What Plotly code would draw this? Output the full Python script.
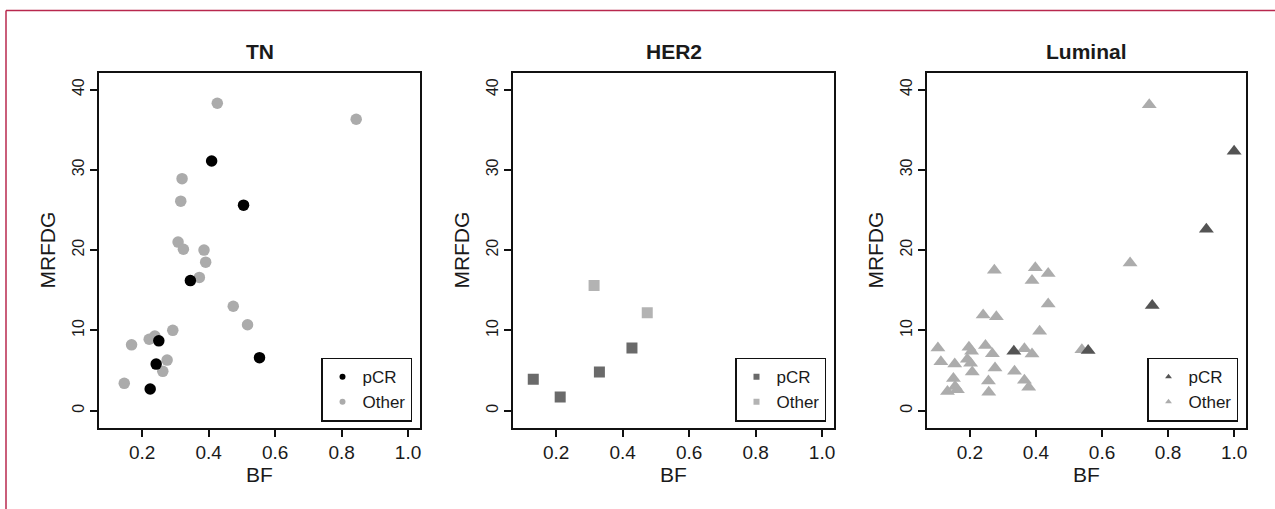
import plotly.graph_objects as go

# ---------------- data ----------------
panels = ["TN", "HER2", "Luminal"]
groups = ["pCR", "Other"]

tn_pcr_bf = [0.409, 0.505, 0.345, 0.250, 0.242, 0.224, 0.553]
tn_pcr_mrfdg = [31.1, 25.6, 16.2, 8.7, 5.8, 2.7, 6.6]
tn_other_bf = [0.426, 0.844, 0.320, 0.316, 0.308, 0.324, 0.386, 0.391, 0.372,
               0.474, 0.517, 0.292, 0.221, 0.238, 0.168, 0.275, 0.262, 0.146]
tn_other_mrfdg = [38.3, 36.3, 28.9, 26.1, 21.0, 20.1, 20.0, 18.5, 16.6,
                  13.0, 10.7, 10.0, 8.9, 9.3, 8.2, 6.3, 4.9, 3.4]

her2_pcr_bf = [0.131, 0.212, 0.330, 0.428]
her2_pcr_mrfdg = [3.9, 1.7, 4.8, 7.8]
her2_other_bf = [0.314, 0.474]
her2_other_mrfdg = [15.6, 12.2]

lum_pcr_bf = [0.333, 0.558, 0.752, 0.916, 1.000]
lum_pcr_mrfdg = [7.4, 7.5, 13.1, 22.6, 32.3]
lum_other_bf = [0.274, 0.398, 0.437, 0.388, 0.437, 0.240, 0.280, 0.411,
                0.103, 0.197, 0.205, 0.247, 0.268, 0.112, 0.154, 0.192,
                0.202, 0.207, 0.276, 0.365, 0.388, 0.335, 0.150, 0.256,
                0.365, 0.155, 0.132, 0.162, 0.378, 0.257, 0.539, 0.685, 0.743]
lum_other_mrfdg = [17.5, 17.8, 17.1, 16.2, 13.3, 11.9, 11.7, 9.9,
                   7.8, 7.9, 7.4, 8.1, 7.1, 6.1, 5.8, 6.4,
                   5.9, 4.8, 5.3, 7.7, 7.05, 4.9, 4.0, 3.7,
                   3.8, 3.0, 2.4, 2.6, 2.9, 2.3, 7.6, 18.4, 38.1]

x_ticks = [0.2, 0.4, 0.6, 0.8, 1.0]
y_ticks = [0, 10, 20, 30, 40]

# ---------------- styling ----------------
W, H = 1275, 509
FONT = "Liberation Sans, Arial, Helvetica, sans-serif"
TXT = "#1a1a1a"

panel_data = {
    "TN": [(tn_pcr_bf, tn_pcr_mrfdg), (tn_other_bf, tn_other_mrfdg)],
    "HER2": [(her2_pcr_bf, her2_pcr_mrfdg), (her2_other_bf, her2_other_mrfdg)],
    "Luminal": [(lum_pcr_bf, lum_pcr_mrfdg), (lum_other_bf, lum_other_mrfdg)],
}
symbols = {"TN": "circle", "HER2": "square", "Luminal": "triangle-up"}
sizes = {"TN": 11.5, "HER2": 11, "Luminal": 13}
colors = {
    "TN": ["#000000", "#ababab"],
    "HER2": ["#6a6a6a", "#b3b3b3"],
    "Luminal": ["#545454", "#acacac"],
}
x_px = [(99, 420), (513, 834), (927, 1246)]
y_px = (72.7, 427.5)

fig = go.Figure()

for i, p in enumerate(panels):
    sfx = "" if i == 0 else str(i + 1)
    xa, ya = "x" + sfx, "y" + sfx
    leg = "legend" + sfx
    # draw "Other" first so pCR sits on top
    for gi in [1, 0]:
        xs, ys = panel_data[p][gi]
        fig.add_trace(go.Scatter(
            x=xs, y=ys, mode="markers", name=groups[gi],
            marker=dict(symbol=symbols[p], size=sizes[p], color=colors[p][gi],
                        line=dict(width=0)),
            xaxis=xa, yaxis=ya, showlegend=False, legend=leg,
        ))
    # legend entries (small keys like the original)
    for gi in [0, 1]:
        fig.add_trace(go.Scatter(
            x=[None], y=[None], mode="markers", name=groups[gi],
            marker=dict(symbol=symbols[p], size=6, color=colors[p][gi],
                        line=dict(width=0)),
            xaxis=xa, yaxis=ya, showlegend=True, legend=leg,
        ))

    x0, x1 = x_px[i]
    common = dict(showline=True, linecolor="#111111", linewidth=2, mirror=True,
                  ticks="outside", ticklen=7, tickwidth=1.5, tickcolor="#111111",
                  showgrid=False, zeroline=False)
    fig.layout["xaxis" + sfx] = dict(
        domain=[x0 / W, x1 / W], anchor=ya, range=[0.07, 1.036],
        tickvals=x_ticks, ticktext=[f"{v:.1f}" for v in x_ticks],
        tickfont=dict(size=19, family=FONT, color=TXT),
        title=dict(text="BF", font=dict(size=21, family=FONT, color=TXT), standoff=5),
        **common)
    fig.layout["yaxis" + sfx] = dict(
        domain=[1 - y_px[1] / H, 1 - y_px[0] / H], anchor=xa, range=[-2.1, 42.1],
        tickvals=y_ticks, tickangle=-90,
        tickfont=dict(size=16, family=FONT, color=TXT),
        title=dict(text="MRFDG", font=dict(size=21, family=FONT, color=TXT), standoff=8),
        **common)
    fig.layout[leg] = dict(
        x=(x1 - 8) / W, y=1 - 421.7 / H, xanchor="right", yanchor="bottom",
        bgcolor="white", bordercolor="#111111", borderwidth=1.5,
        font=dict(size=17, family=FONT, color=TXT),
        itemwidth=30, tracegroupgap=0,
    )
    fig.add_annotation(
        x=(x0 + x1) / 2 / W, y=1 - 52 / H, xref="paper", yref="paper",
        text=f"<b>{p}</b>", showarrow=False, xanchor="center", yanchor="middle",
        font=dict(size=21, family=FONT, color=TXT),
    )

# crimson frame (top and left edges visible in the original figure)
frame = "#b8284e"
fig.add_shape(type="line", xref="paper", yref="paper",
              x0=6 / W, x1=1.0, y0=1 - 10.5 / H, y1=1 - 10.5 / H,
              line=dict(color=frame, width=1.5))
fig.add_shape(type="line", xref="paper", yref="paper",
              x0=6 / W, x1=6 / W, y0=0.0, y1=1 - 10.5 / H,
              line=dict(color=frame, width=1.5))

fig.update_layout(
    width=W, height=H, autosize=False,
    margin=dict(l=0, r=0, t=0, b=0),
    paper_bgcolor="white", plot_bgcolor="white",
    font=dict(family=FONT, color=TXT),
)

fig.write_html("out.html", config={"displayModeBar": False},
               post_script="document.body.style.margin='0';document.body.style.overflow='hidden';")
